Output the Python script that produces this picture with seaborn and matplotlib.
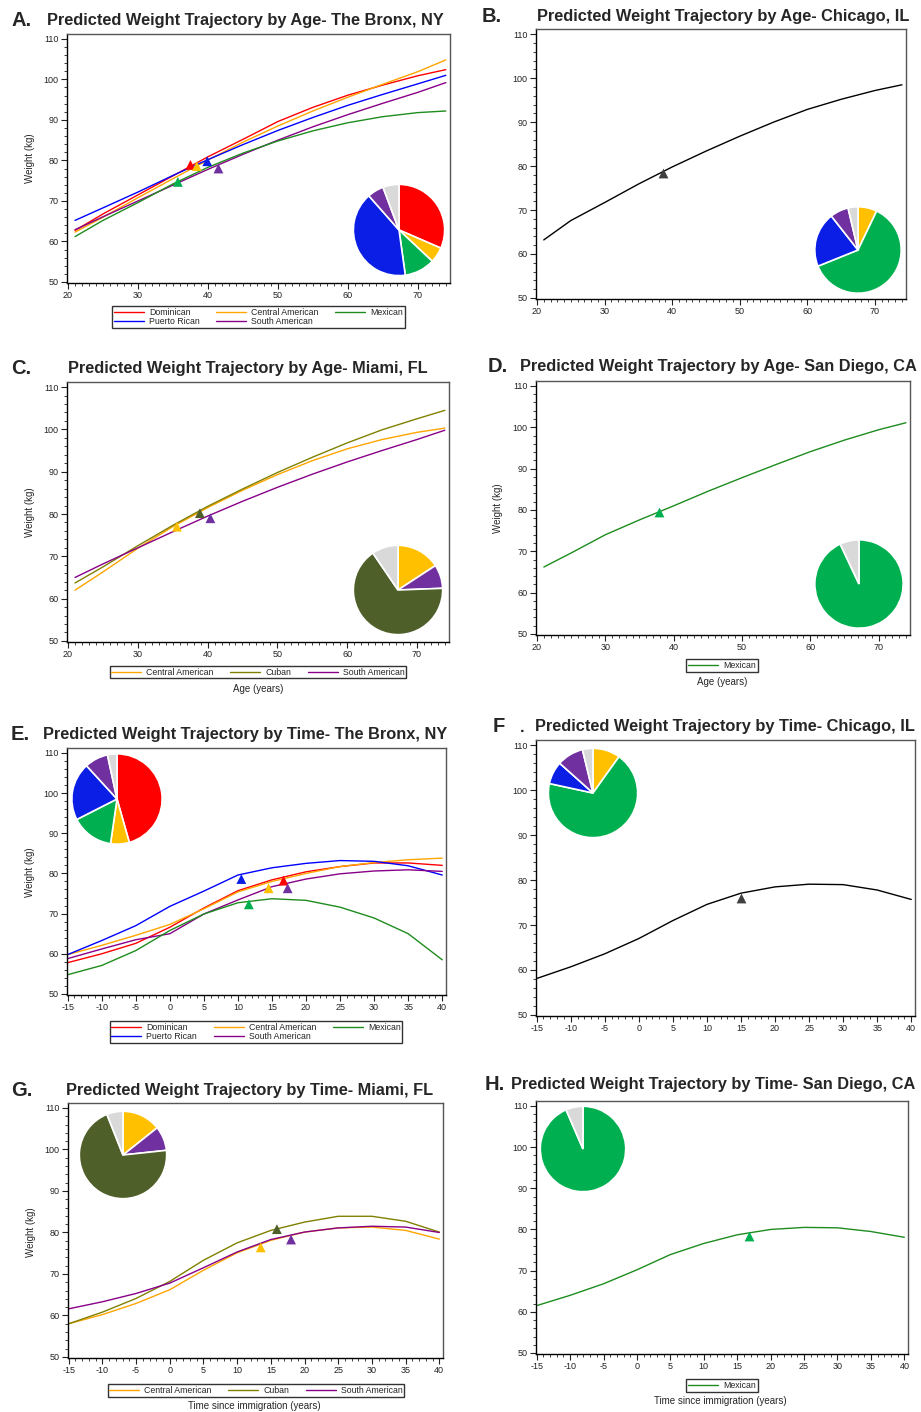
import pandas as pd
import seaborn as sns
import matplotlib.pyplot as plt
from matplotlib.lines import Line2D
from matplotlib.ticker import MultipleLocator

# ---- data ----
age_x = [21, 25, 30, 35, 40, 45, 50, 55, 60, 65, 70, 74]
time_x = [-15, -10, -5, 0, 5, 10, 15, 20, 25, 30, 35, 40]

# A. Bronx by age
bronx_age_dom = [62.7, 66.8, 71.5, 76.2, 80.9, 85.2, 89.6, 93.1, 96.1, 98.6, 100.9, 102.4]
bronx_age_cam = [62.3, 66.0, 70.8, 75.5, 80.1, 84.5, 88.5, 92.2, 95.6, 98.8, 101.9, 104.8]
bronx_age_pr = [65.2, 68.3, 72.2, 76.3, 80.2, 83.9, 87.4, 90.6, 93.6, 96.3, 98.9, 101.0]
bronx_age_sam = [62.9, 66.1, 70.0, 73.9, 77.8, 81.5, 85.0, 88.3, 91.3, 94.1, 96.8, 99.2]
bronx_age_mex = [61.2, 65.2, 69.6, 74.2, 78.3, 81.8, 84.8, 87.3, 89.3, 90.8, 91.8, 92.2]
bronx_age_mean_x = [37.5, 38.4, 39.9, 41.5, 35.7]
bronx_age_mean_y = [78.9, 78.6, 79.8, 78.0, 74.7]

# B. Chicago by age
chicago_age = [63.2, 67.6, 71.7, 75.9, 79.8, 83.4, 86.8, 90.0, 92.9, 95.2, 97.2, 98.5]
chicago_age_mean = (38.6, 78.4)

# C. Miami by age
miami_age_cam = [62.0, 66.3, 71.9, 77.0, 81.5, 85.6, 89.3, 92.6, 95.4, 97.6, 99.3, 100.3]
miami_age_cub = [63.7, 67.5, 72.5, 77.3, 81.8, 85.9, 89.8, 93.4, 96.8, 99.9, 102.5, 104.5]
miami_age_sam = [65.0, 68.2, 72.0, 75.8, 79.5, 83.0, 86.3, 89.4, 92.3, 95.0, 97.6, 99.8]
miami_age_mean_x = [35.6, 38.9, 40.4]
miami_age_mean_y = [77.0, 80.2, 79.0]

# D. San Diego by age
sandiego_age = [66.2, 69.6, 74.0, 77.6, 81.0, 84.5, 87.8, 91.0, 94.1, 96.9, 99.4, 101.1]
sandiego_age_mean = (37.9, 79.4)

# E. Bronx by time
bronx_time_dom = [57.8, 60.0, 62.6, 66.6, 71.4, 75.7, 78.4, 80.4, 81.7, 82.6, 82.6, 82.0]
bronx_time_cam = [59.8, 62.1, 64.6, 67.3, 71.2, 75.4, 78.0, 80.0, 81.7, 82.7, 83.4, 83.8]
bronx_time_pr = [59.8, 63.3, 67.0, 71.8, 75.6, 79.6, 81.4, 82.5, 83.2, 83.0, 81.9, 79.6]
bronx_time_sam = [58.8, 61.2, 63.5, 65.0, 69.9, 73.4, 76.7, 78.6, 79.9, 80.6, 80.9, 80.5]
bronx_time_mex = [54.8, 57.1, 60.8, 65.8, 69.9, 72.7, 73.7, 73.3, 71.6, 68.9, 65.0, 58.5]
bronx_time_mean_x = [16.7, 14.5, 10.5, 17.3, 11.6]
bronx_time_mean_y = [78.2, 76.3, 78.6, 76.3, 72.3]

# F. Chicago by time
chicago_time = [58.1, 60.7, 63.6, 67.0, 71.0, 74.6, 77.1, 78.5, 79.1, 79.0, 77.8, 75.7]
chicago_time_mean = (15.0, 76.0)

# G. Miami by time
miami_time_cam = [58.0, 60.2, 62.9, 66.2, 70.9, 75.1, 78.1, 80.1, 81.1, 81.3, 80.5, 78.4]
miami_time_cub = [58.0, 60.8, 64.1, 68.2, 73.3, 77.5, 80.5, 82.5, 83.9, 83.9, 82.7, 80.1]
miami_time_sam = [61.6, 63.3, 65.3, 67.8, 71.5, 75.3, 78.3, 80.1, 81.1, 81.5, 81.3, 80.0]
miami_time_mean_x = [13.5, 15.9, 18.0]
miami_time_mean_y = [76.4, 80.8, 78.3]

# H. San Diego by time
sandiego_time = [61.5, 64.0, 66.8, 70.2, 73.9, 76.6, 78.7, 80.0, 80.5, 80.4, 79.5, 78.1]
sandiego_time_mean = (16.8, 78.4)

# pie shares (% of sample), clockwise from 12 o'clock
pie_a_groups = ['Dominican', 'Central American', 'Mexican', 'Puerto Rican', 'South American', 'Other']
pie_a_vals = [31.5, 5.5, 10.8, 40.7, 5.8, 5.7]
pie_b_groups = ['Central American', 'Mexican', 'Puerto Rican', 'South American', 'Other']
pie_b_vals = [7.1, 61.8, 20.5, 6.9, 3.7]
pie_c_groups = ['Central American', 'South American', 'Cuban', 'Other']
pie_c_vals = [15.8, 8.6, 66.1, 9.5]
pie_d_groups = ['Mexican', 'Other']
pie_d_vals = [93.0, 7.0]
pie_e_groups = pie_a_groups
pie_e_vals = [45.6, 6.7, 15.2, 20.7, 8.4, 3.4]
pie_f_groups = pie_b_groups
pie_f_vals = [9.9, 68.5, 8.2, 9.6, 3.8]
pie_g_groups = pie_c_groups
pie_g_vals = [14.3, 9.0, 70.7, 6.0]
pie_h_groups = pie_d_groups
pie_h_vals = [93.5, 6.5]

line_colors = {'Dominican': '#ff0000', 'Central American': '#ffa500', 'Mexican': '#1e8c1e',
               'Puerto Rican': '#0000ff', 'South American': '#880088', 'Cuban': '#808000',
               'All': '#000000'}
fill_colors = {'Dominican': '#ff0000', 'Central American': '#ffc000', 'Mexican': '#00b050',
               'Puerto Rican': '#0a1ee6', 'South American': '#7030a0', 'Cuban': '#4f5f2a',
               'Other': '#d9d9d9', 'All': '#404040'}

sns.set_style('ticks')
plt.rcParams['font.family'] = ['Liberation Sans', 'DejaVu Sans']
plt.rcParams['axes.unicode_minus'] = False

W, H = 921, 1412
fig = plt.figure(figsize=(W / 100, H / 100), dpi=100)


def add_px_axes(l, t, r, b):
    return fig.add_axes([l / W, 1 - b / H, (r - l) / W, (b - t) / H])


def panel(box, x, series, mean_x, mean_y, is_time):
    ax = add_px_axes(*box)
    rows = []
    for name, vals in series.items():
        for xi, yi in zip(x, vals):
            rows.append((xi, yi, name))
    df = pd.DataFrame(rows, columns=['x', 'weight', 'group'])
    sns.lineplot(data=df, x='x', y='weight', hue='group', hue_order=list(series),
                 palette=line_colors, estimator=None, linewidth=1.0, legend=False, ax=ax)
    mdf = pd.DataFrame({'x': mean_x, 'y': mean_y, 'group': list(series)})
    sns.scatterplot(data=mdf, x='x', y='y', hue='group', palette=fill_colors, marker='^',
                    s=50, linewidth=0, legend=False, ax=ax, zorder=5)
    ax.set_ylim(49.75, 111.2)
    ax.set_yticks(range(50, 111, 10))
    ax.yaxis.set_minor_locator(MultipleLocator(2))
    if is_time:
        ax.set_xlim(-15.1, 40.55)
        ax.set_xticks(range(-15, 41, 5))
    else:
        ax.set_xlim(19.85, 74.6)
        ax.set_xticks(range(20, 71, 10))
    ax.xaxis.set_minor_locator(MultipleLocator(1))
    ax.set_xlabel('')
    ax.set_ylabel('')
    ax.tick_params(which='major', length=4, width=0.8, labelsize=6.5, colors='#222222', pad=2)
    ax.tick_params(which='minor', length=2, width=0.6, colors='#222222')
    for s in ax.spines.values():
        s.set_visible(True)
        s.set_linewidth(1.0)
        s.set_color('black')
    ax.spines['top'].set_color('#555555')
    ax.spines['right'].set_color('#555555')
    return ax


def pie(cx, cy, r, groups, vals):
    pax = fig.add_axes([(cx - r) / W, 1 - (cy + r) / H, 2 * r / W, 2 * r / H])
    pax.pie(vals, colors=[fill_colors[g] for g in groups], startangle=90, counterclock=False,
            wedgeprops=dict(edgecolor='white', linewidth=1.2))
    pax.set_xlim(-1.03, 1.03)
    pax.set_ylim(-1.03, 1.03)
    pax.set_aspect('equal')


def legend(names, cx, top, ncol):
    handles = [Line2D([], [], color=line_colors[n], lw=1.0) for n in names]
    leg = fig.legend(handles, names, loc='upper center', bbox_to_anchor=(cx / W, 1 - top / H),
                     ncol=ncol, fontsize=6.3, frameon=True, fancybox=False, edgecolor='black',
                     handlelength=3.4, handletextpad=0.6, columnspacing=1.9, borderpad=0.2,
                     labelspacing=0.05, borderaxespad=0)
    leg.get_frame().set_linewidth(1.0)


def heading(letter, lx, text, tx, y):
    fig.text(lx / W, 1 - y / H, letter, fontsize=14.5, fontweight='bold', va='center')
    fig.text(tx / W, 1 - y / H, text, fontsize=11.8, fontweight='bold', va='center')


def ylabel(x, y):
    fig.text(x / W, 1 - y / H, 'Weight (kg)', fontsize=7, rotation=90, va='center', ha='center')


def xlabel(x, y, text):
    fig.text(x / W, 1 - y / H, text, fontsize=7, va='center', ha='center')


bronx_names = ['Dominican', 'Central American', 'Puerto Rican', 'South American', 'Mexican']
miami_names = ['Central American', 'Cuban', 'South American']

# A
panel((67, 34, 450, 283), age_x,
      dict(zip(bronx_names, [bronx_age_dom, bronx_age_cam, bronx_age_pr, bronx_age_sam, bronx_age_mex])),
      bronx_age_mean_x, bronx_age_mean_y, False)
heading('A.', 11, 'Predicted Weight Trajectory by Age- The Bronx, NY', 47, 20)
ylabel(30, 158)
legend(['Dominican', 'Puerto Rican', 'Central American', 'South American', 'Mexican'], 258.5, 306, 3)
pie(399, 230, 47, pie_a_groups, pie_a_vals)

# B
panel((536, 29, 906, 299), age_x, {'All': chicago_age},
      [chicago_age_mean[0]], [chicago_age_mean[1]], False)
heading('B.', 482, 'Predicted Weight Trajectory by Age- Chicago, IL', 537, 16)
pie(858, 250, 44.5, pie_b_groups, pie_b_vals)

# C
panel((67, 382, 449, 642), age_x,
      dict(zip(miami_names, [miami_age_cam, miami_age_cub, miami_age_sam])),
      miami_age_mean_x, miami_age_mean_y, False)
heading('C.', 11, 'Predicted Weight Trajectory by Age- Miami, FL', 68, 368)
ylabel(30, 512)
legend(miami_names, 258, 666, 3)
xlabel(258, 689, 'Age (years)')
pie(398, 590, 46, pie_c_groups, pie_c_vals)

# D
panel((536, 381, 910, 635), age_x, {'Mexican': sandiego_age},
      [sandiego_age_mean[0]], [sandiego_age_mean[1]], False)
heading('D.', 488, 'Predicted Weight Trajectory by Age- San Diego, CA', 520, 367)
ylabel(498, 508)
legend(['Mexican'], 722, 659, 1)
xlabel(722, 682, 'Age (years)')
pie(859, 584, 45.5, pie_d_groups, pie_d_vals)

# E
panel((67, 748, 446, 995), time_x,
      dict(zip(bronx_names, [bronx_time_dom, bronx_time_cam, bronx_time_pr, bronx_time_sam, bronx_time_mex])),
      bronx_time_mean_x, bronx_time_mean_y, True)
heading('E.', 11, 'Predicted Weight Trajectory by Time- The Bronx, NY', 43, 735)
ylabel(30, 872)
legend(['Dominican', 'Puerto Rican', 'Central American', 'South American', 'Mexican'], 256, 1021, 3)
pie(117, 799, 46.5, pie_e_groups, pie_e_vals)

# F
panel((536, 740, 915, 1016), time_x, {'All': chicago_time},
      [chicago_time_mean[0]], [chicago_time_mean[1]], True)
heading('F', 493, 'Predicted Weight Trajectory by Time- Chicago, IL', 535, 726)
fig.text(520 / W, 1 - 728 / H, '.', fontsize=11.8, fontweight='bold', va='center')
pie(593, 793, 46, pie_f_groups, pie_f_vals)

# G
panel((68, 1103, 443, 1358), time_x,
      dict(zip(miami_names, [miami_time_cam, miami_time_cub, miami_time_sam])),
      miami_time_mean_x, miami_time_mean_y, True)
heading('G.', 11, 'Predicted Weight Trajectory by Time- Miami, FL', 66, 1090)
ylabel(31, 1232)
legend(miami_names, 256, 1384, 3)
xlabel(254, 1406, 'Time since immigration (years)')
pie(123, 1155, 45, pie_g_groups, pie_g_vals)

# H
panel((536, 1101, 908, 1354), time_x, {'Mexican': sandiego_time},
      [sandiego_time_mean[0]], [sandiego_time_mean[1]], True)
heading('H.', 485, 'Predicted Weight Trajectory by Time- San Diego, CA', 511, 1085)
legend(['Mexican'], 722, 1379, 1)
xlabel(720, 1401, 'Time since immigration (years)')
pie(583, 1149, 44, pie_h_groups, pie_h_vals)

fig.savefig('out.png', dpi=100)
